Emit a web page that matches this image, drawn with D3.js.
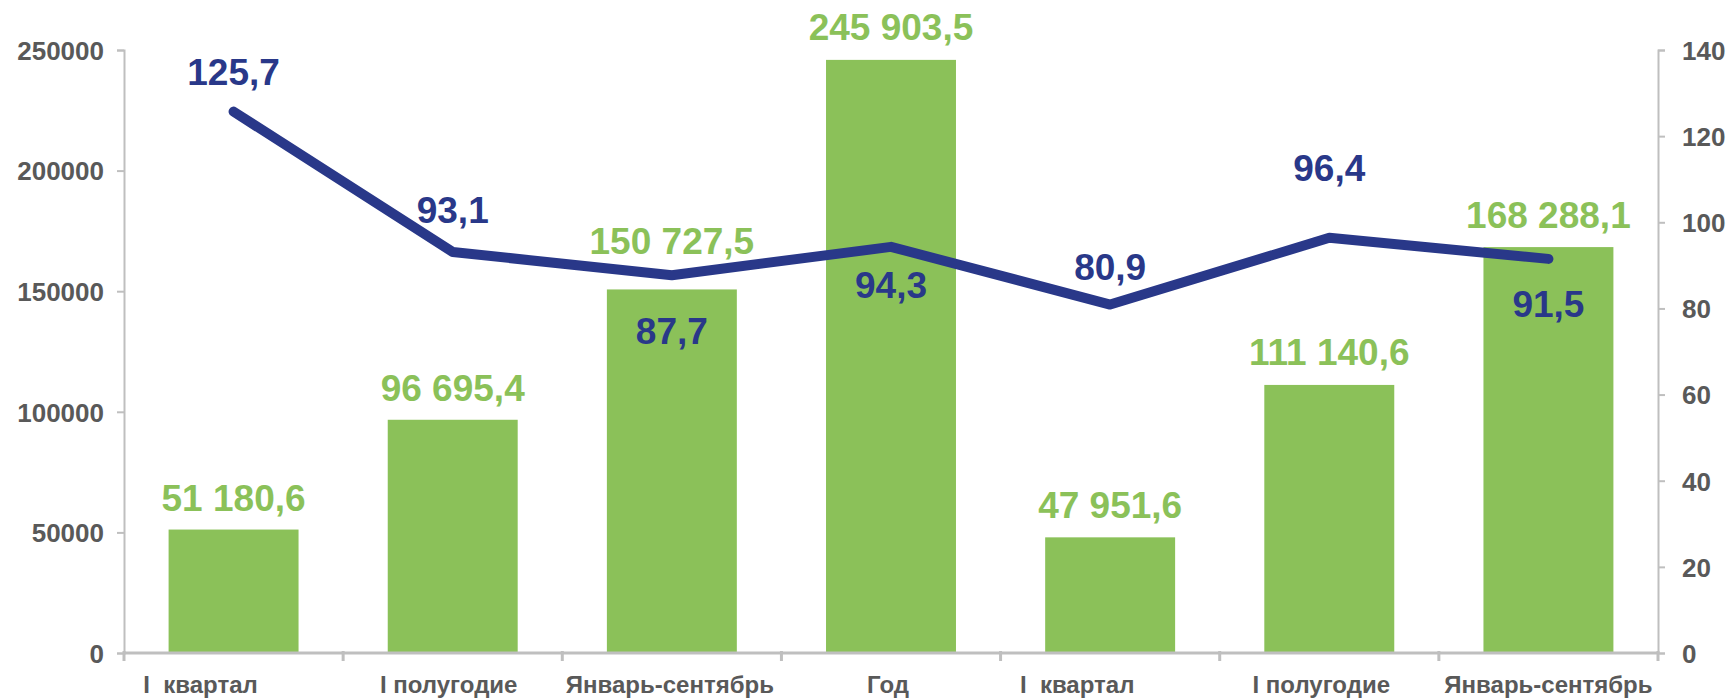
<!DOCTYPE html>
<html>
<head>
<meta charset="utf-8">
<script src="https://cdn.jsdelivr.net/npm/d3@7"></script>
<style>
  body { margin: 0; background: #fff; }
  svg text { font-family: "Liberation Sans", Arial, sans-serif; font-weight: bold; }
</style>
</head>
<body>
<div id="chart"></div>
<script>
// data
var categories = ["I  квартал", "I полугодие", "Январь-сентябрь", "Год", "I  квартал", "I полугодие", "Январь-сентябрь"];
var barValues = [51180.6, 96695.4, 150727.5, 245903.5, 47951.6, 111140.6, 168288.1];
var lineValues = [125.7, 93.1, 87.7, 94.3, 80.9, 96.4, 91.5];
var leftTicks = [0, 50000, 100000, 150000, 200000, 250000];
var rightTicks = [0, 20, 40, 60, 80, 100, 120, 140];

// label placement tweaks (as in the original layout)
var catDx = [-33, -4, -2, -3, -33, -8, 0];
var barLift = [19, 19, 35, 20, 19, 20, 19];
var lineDy = [-40, -42, 55, 38, -38, -70, 45];

var width = 1729, height = 699;
var margin = {top: 50, bottom: 46, left: 124, right: 71};
var w = width - margin.left - margin.right;
var h = height - margin.top - margin.bottom;

var green = "#8bc159", blue = "#293889", grey = "#595959", axisGrey = "#bfbfbf";

var ru = d3.formatLocale({decimal: ",", thousands: " ", grouping: [3], currency: ["", ""]});
var fmtBar = ru.format(",.1f");
var fmtLine = ru.format(".1f");

var svg = d3.select("#chart").append("svg")
  .attr("width", width)
  .attr("height", height)
  .append("g")
  .attr("transform", "translate(" + margin.left + "," + margin.top + ")");

var x = d3.scaleBand()
  .domain(d3.range(categories.length))
  .range([0, w])
  .padding(0);
var barW = x.bandwidth() * 0.593;

var y = d3.scaleLinear().domain([0, 250000]).range([h, 0]);
var y2 = d3.scaleLinear().domain([0, 140]).range([h, 0]);

// left axis
var yAxis = d3.axisLeft(y).tickValues(leftTicks).tickSize(7).tickPadding(13).tickFormat(d3.format("d"));
var gy = svg.append("g").call(yAxis);
gy.select(".domain").attr("stroke", axisGrey).attr("stroke-width", 2);
gy.selectAll(".tick line").attr("stroke", axisGrey).attr("stroke-width", 2);
gy.selectAll(".tick text").attr("fill", grey).style("font-size", "26px").attr("dy", "0.36em");

// right axis
var y2Axis = d3.axisRight(y2).tickValues(rightTicks).tickSize(7).tickPadding(17);
var gy2 = svg.append("g").attr("transform", "translate(" + w + ",0)").call(y2Axis);
gy2.select(".domain").attr("stroke", axisGrey).attr("stroke-width", 2);
gy2.selectAll(".tick line").attr("stroke", axisGrey).attr("stroke-width", 2);
gy2.selectAll(".tick text").attr("fill", grey).style("font-size", "26px").attr("dy", "0.36em");

// bars
svg.selectAll("rect.bar").data(barValues)
  .enter().append("rect")
  .attr("class", "bar")
  .attr("x", function(d, i) { return x(i) + (x.bandwidth() - barW) / 2; })
  .attr("y", function(d) { return y(d); })
  .attr("width", barW)
  .attr("height", function(d) { return h - y(d); })
  .style("fill", green);

// bottom axis with ticks at category boundaries
var bounds = d3.range(categories.length + 1);
var gx = svg.append("g").attr("transform", "translate(0," + h + ")");
gx.append("line")
  .attr("x1", 0).attr("x2", w)
  .attr("stroke", axisGrey).attr("stroke-width", 3);
gx.selectAll("line.btick").data(bounds)
  .enter().append("line")
  .attr("class", "btick")
  .attr("x1", function(d) { return d * x.step(); })
  .attr("x2", function(d) { return d * x.step(); })
  .attr("y1", -2).attr("y2", 8)
  .attr("stroke", axisGrey).attr("stroke-width", 3);
gx.selectAll("text.cat").data(categories)
  .enter().append("text")
  .attr("class", "cat")
  .attr("x", function(d, i) { return x(i) + x.bandwidth() / 2 + catDx[i]; })
  .attr("y", 40)
  .attr("text-anchor", "middle")
  .attr("fill", grey)
  .style("font-size", "24px")
  .style("white-space", "pre")
  .text(function(d) { return d; });

// bar labels
svg.selectAll("text.barlab").data(barValues)
  .enter().append("text")
  .attr("class", "barlab")
  .attr("x", function(d, i) { return x(i) + x.bandwidth() / 2; })
  .attr("y", function(d, i) { return y(d) - barLift[i]; })
  .attr("text-anchor", "middle")
  .attr("fill", green)
  .style("font-size", "37px")
  .text(function(d) { return fmtBar(d); });

// line
var line = d3.line()
  .x(function(d, i) { return x(i) + x.bandwidth() / 2; })
  .y(function(d) { return y2(d); });
svg.append("path")
  .datum(lineValues)
  .attr("d", line)
  .attr("fill", "none")
  .attr("stroke", blue)
  .attr("stroke-width", 10)
  .attr("stroke-linecap", "round")
  .attr("stroke-linejoin", "round");

// line labels
svg.selectAll("text.linelab").data(lineValues)
  .enter().append("text")
  .attr("class", "linelab")
  .attr("x", function(d, i) { return x(i) + x.bandwidth() / 2; })
  .attr("y", function(d, i) { return y2(d) + lineDy[i]; })
  .attr("dy", "0.36em")
  .attr("text-anchor", "middle")
  .attr("fill", blue)
  .style("font-size", "37px")
  .text(function(d) { return fmtLine(d); });
</script>
</body>
</html>
